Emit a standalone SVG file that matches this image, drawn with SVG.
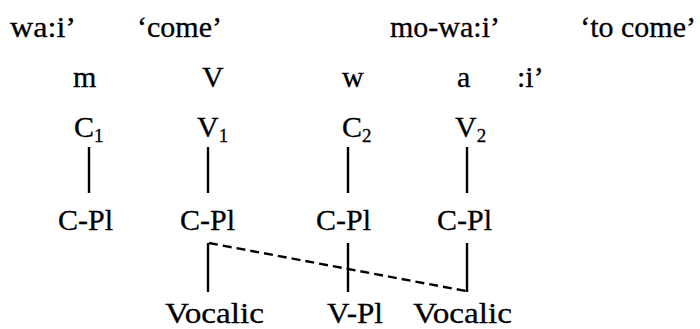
<svg xmlns="http://www.w3.org/2000/svg" width="700" height="329" viewBox="0 0 700 329">
<style>
text{font-family:'Liberation Serif','DejaVu Serif','Times New Roman',serif;font-size:30px;fill:#000;stroke:#000;stroke-width:0.3}
.sub{font-size:19px}
.ln{stroke:#000;stroke-width:2.4;fill:none}
.dash{stroke:#000;stroke-width:2.4;fill:none;stroke-dasharray:9 5}
</style>
<rect width="700" height="329" fill="#fff"/>
<g id="gloss">
<text x="10" y="37" textLength="66" lengthAdjust="spacingAndGlyphs">wa:i’</text>
<text x="137" y="37" textLength="85" lengthAdjust="spacingAndGlyphs">‘come’</text>
<text x="390" y="37">mo-wa:i’</text>
<text x="696" y="37" text-anchor="end">‘to come’</text>
</g>
<g id="segments">
<text x="73" y="87">m</text>
<text x="202" y="87">V</text>
<text x="342" y="87">w</text>
<text x="457" y="87">a</text>
<text x="517" y="87">:i’</text>
</g>
<g id="n-C1"><text x="74" y="137">C<tspan class="sub" dy="5">1</tspan></text></g>
<g id="n-V1"><text x="197" y="137">V<tspan class="sub" dy="5">1</tspan></text></g>
<g id="n-C2"><text x="342" y="137">C<tspan class="sub" dy="5">2</tspan></text></g>
<g id="n-V2"><text x="455" y="137">V<tspan class="sub" dy="5">2</tspan></text></g>
<g id="n-CPl1"><text x="58" y="230" textLength="55" lengthAdjust="spacingAndGlyphs">C-Pl</text></g>
<g id="n-CPl2"><text x="180" y="230" textLength="55" lengthAdjust="spacingAndGlyphs">C-Pl</text></g>
<g id="n-CPl3"><text x="316" y="230" textLength="55" lengthAdjust="spacingAndGlyphs">C-Pl</text></g>
<g id="n-CPl4"><text x="437" y="230" textLength="55" lengthAdjust="spacingAndGlyphs">C-Pl</text></g>
<g id="n-Voc1"><text x="165" y="323" textLength="99" lengthAdjust="spacingAndGlyphs">Vocalic</text></g>
<g id="n-VPl"><text x="327" y="323" textLength="56" lengthAdjust="spacingAndGlyphs">V-Pl</text></g>
<g id="n-Voc2"><text x="413" y="323" textLength="99" lengthAdjust="spacingAndGlyphs">Vocalic</text></g>
<g id="connectors">
<line class="ln" x1="89" y1="147" x2="89" y2="193"/>
<line class="ln" x1="208" y1="147" x2="208" y2="193"/>
<line class="ln" x1="348" y1="147" x2="348" y2="193"/>
<line class="ln" x1="467" y1="147" x2="467" y2="193"/>
<line class="ln" x1="208" y1="243" x2="208" y2="292"/>
<line class="ln" x1="348" y1="243" x2="348" y2="292"/>
<line class="ln" x1="467" y1="243" x2="467" y2="292"/>
<line class="dash" x1="209" y1="243" x2="466" y2="291"/>
</g>
</svg>
